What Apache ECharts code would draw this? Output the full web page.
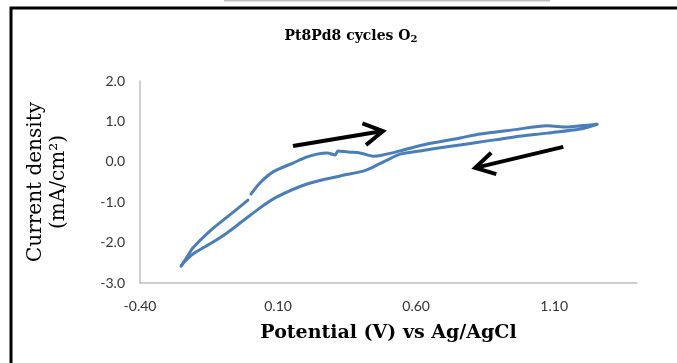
<!DOCTYPE html>
<html>
<head>
<meta charset="utf-8">
<script src="https://cdn.jsdelivr.net/npm/echarts@6/dist/echarts.min.js"></script>
<style>
  html, body { margin: 0; padding: 0; background: #fff; }
  #chart { width: 677px; height: 363px; }
</style>
</head>
<body>
<div id="chart"></div>
<script>
// Cyclic voltammogram, Pt8Pd8 in O2-saturated electrolyte (potential in V, current density in mA/cm2)

// Anodic sweep, from the negative vertex up to the short break in the trace
const sweepStartV = [-0.251, -0.230, -0.208, -0.146, -0.085, -0.009];
const sweepStartI = [-2.58, -2.36, -2.13, -1.71, -1.37, -0.95];

// Anodic sweep, after the break, up to the positive vertex
const sweepUpV = [0.002, 0.035, 0.082, 0.154, 0.205, 0.241, 0.278, 0.307, 0.317, 0.354, 0.397, 0.444, 0.480, 0.542, 0.640, 0.759, 0.832, 0.951, 1.075, 1.147, 1.194, 1.256];
const sweepUpI = [-0.80, -0.52, -0.25, -0.03, 0.12, 0.19, 0.22, 0.17, 0.27, 0.24, 0.22, 0.14, 0.17, 0.27, 0.44, 0.59, 0.69, 0.79, 0.89, 0.86, 0.89, 0.93];

// Cathodic sweep, back down to the negative vertex
const sweepDownV = [1.194, 1.075, 0.951, 0.832, 0.712, 0.614, 0.542, 0.495, 0.444, 0.408, 0.325, 0.205, 0.096, 0.035, -0.027, -0.085, -0.146, -0.208, -0.237, -0.251];
const sweepDownI = [0.81, 0.71, 0.61, 0.49, 0.37, 0.27, 0.19, 0.04, -0.13, -0.23, -0.35, -0.55, -0.87, -1.14, -1.46, -1.76, -2.03, -2.28, -2.46, -2.58];

// Axis ticks
const xTickValues = [-0.4, 0.1, 0.6, 1.1];
const yTickValues = [-3, -2, -1, 0, 1, 2];

// Scan-direction arrows: [fromV, fromI, toV, toI]
const arrowForward = [0.154, 0.39, 0.480, 0.76];
const arrowReverse = [1.133, 0.37, 0.814, -0.15];

const pairs = (xs, ys) => xs.map((x, i) => [x, ys[i]]);

const curveColor = '#4A7EBB';
const serif = '"DejaVu Serif", "Liberation Serif", serif';
const sans = 'Lato, "Liberation Sans", sans-serif';

const chart = echarts.init(document.getElementById('chart'), null, { renderer: 'canvas' });

const lineStyle = { color: curveColor, width: 3, cap: 'round', join: 'round' };

chart.setOption({
  animation: false,
  backgroundColor: '#fff',
  title: {
    text: '{a|Pt8Pd8 cycles O}{s|2}',
    left: 346,
    top: 23,
    textAlign: 'center',
    textStyle: {
      rich: {
        a: { fontFamily: serif, fontWeight: 'bold', fontSize: 14, color: '#000' },
        s: { fontFamily: serif, fontWeight: 'bold', fontSize: 10, color: '#000', verticalAlign: 'bottom', padding: [6, 0, 0, 0] }
      }
    }
  },
  grid: { left: 140, right: 40, top: 81, bottom: 80, containLabel: false },
  xAxis: {
    type: 'value',
    min: -0.4,
    max: 1.4,
    name: 'Potential (V) vs Ag/AgCl',
    nameLocation: 'middle',
    nameGap: 41,
    nameTextStyle: { fontFamily: serif, fontWeight: 'bold', fontSize: 19, color: '#000' },
    axisLine: { show: true, onZero: false, lineStyle: { color: '#BFBFBF', width: 1.5 } },
    axisTick: { show: false },
    splitLine: { show: false },
    axisLabel: {
      customValues: xTickValues,
      formatter: v => v.toFixed(2),
      margin: 16,
      fontFamily: sans,
      fontSize: 14,
      color: '#333'
    }
  },
  yAxis: {
    type: 'value',
    min: -3,
    max: 2,
    interval: 1,
    name: 'Current density\n(mA/cm²)',
    nameLocation: 'middle',
    nameRotate: 90,
    nameGap: 70,
    nameTextStyle: { fontFamily: serif, fontWeight: 'normal', fontSize: 20, color: '#000', lineHeight: 23, align: 'center' },
    axisLine: { show: true, onZero: false, lineStyle: { color: '#BFBFBF', width: 1.5 } },
    axisTick: { show: false },
    splitLine: { show: false },
    axisLabel: {
      customValues: yTickValues,
      formatter: v => v.toFixed(1),
      margin: 15,
      fontFamily: sans,
      fontSize: 14,
      color: '#333'
    }
  },
  series: [
    {
      type: 'line',
      data: pairs(sweepStartV, sweepStartI),
      showSymbol: false,
      smooth: 0.3,
      lineStyle: lineStyle
    },
    {
      type: 'line',
      data: pairs(sweepUpV, sweepUpI).concat(pairs(sweepDownV, sweepDownI)),
      showSymbol: false,
      smooth: 0.3,
      lineStyle: lineStyle
    }
  ]
});

// Arrows and the frame are placed after layout so the arrows follow the axes
function arrowShapes(a) {
  const p0 = chart.convertToPixel({ gridIndex: 0 }, [a[0], a[1]]);
  const p1 = chart.convertToPixel({ gridIndex: 0 }, [a[2], a[3]]);
  const ang = Math.atan2(p0[1] - p1[1], p0[0] - p1[0]);
  const len = 22, spread = Math.PI / 6;
  const w1 = [p1[0] + len * Math.cos(ang + spread), p1[1] + len * Math.sin(ang + spread)];
  const w2 = [p1[0] + len * Math.cos(ang - spread), p1[1] + len * Math.sin(ang - spread)];
  const style = { stroke: '#000', lineWidth: 4, fill: null, lineCap: 'butt', lineJoin: 'miter' };
  return [
    { type: 'line', shape: { x1: p0[0], y1: p0[1], x2: p1[0], y2: p1[1] }, style: style },
    { type: 'polyline', shape: { points: [w1, p1, w2] }, style: style }
  ];
}

chart.setOption({
  graphic: [
    // outer chart frame
    { type: 'rect', shape: { x: 11, y: 8, width: 700, height: 400 }, style: { stroke: '#000', lineWidth: 3, fill: null }, silent: true },
    // edge of the panel above
    { type: 'line', shape: { x1: 224, y1: 0.5, x2: 550, y2: 0.5 }, style: { stroke: '#BFBFBF', lineWidth: 2 }, silent: true }
  ].concat(arrowShapes(arrowForward), arrowShapes(arrowReverse))
});
</script>
</body>
</html>
